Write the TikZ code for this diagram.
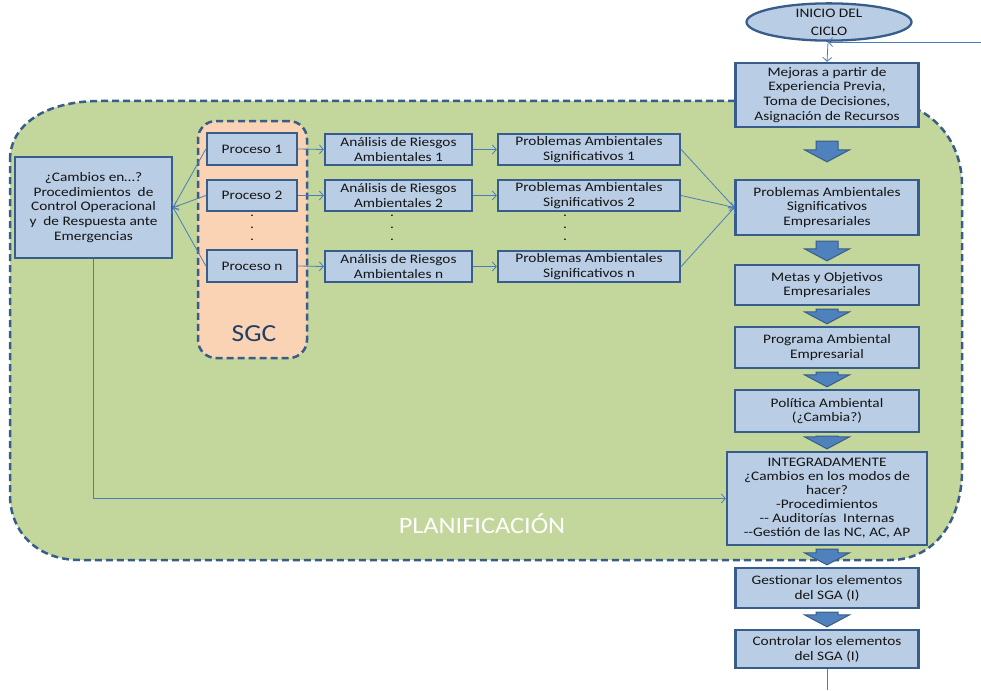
\documentclass[tikz,border=0pt]{standalone}
\usepackage{fontspec}
\setmainfont{Carlito}[FakeStretch=1.18]
\newfontfamily\bigfont{Carlito}[FakeStretch=1.12]
\usetikzlibrary{arrows.meta,calc,shapes.geometric}
\definecolor{boxfill}{HTML}{B9CDE5}
\definecolor{boxborder}{HTML}{385D8A}
\definecolor{greenfill}{HTML}{C3D69B}
\definecolor{sgcfill}{HTML}{FAD3B4}
\definecolor{arrowblue}{HTML}{4F81BD}
\definecolor{connblue}{HTML}{4A7EBB}
\definecolor{txt}{HTML}{141414}
\definecolor{sgctxt}{HTML}{1F3F6A}
\newcommand\barrow[4]{%
  \draw[barrowst] let \p1=(#1.south), \p2=(#2.north) in
    ({\x1-11pt},{\y1-#3pt}) -- ({\x1+11pt},{\y1-#3pt}) --
    ({\x1+11pt},{\y2+#4pt+12pt}) -- ({\x1+22.5pt},{\y2+#4pt+12pt}) --
    ({\x1},{\y2+#4pt}) -- ({\x1-22.5pt},{\y2+#4pt+12pt}) --
    ({\x1-11pt},{\y2+#4pt+12pt}) -- cycle;}
\begin{document}
\begin{tikzpicture}[x=1pt,y=-1pt,
  box/.style={draw=boxborder,line width=2.3pt,fill=boxfill,align=center,inner sep=0pt,text=txt,
    font=\fontsize{13}{14.8}\selectfont},
  conn/.style={draw=connblue,line width=0.8pt,-{Straight Barb[length=4pt,width=9pt]}},
  connline/.style={draw=connblue,line width=0.8pt},
  dashborder/.style={draw=boxborder,line width=2.5pt,dash pattern=on 7pt off 4pt},
  barrowst/.style={fill=arrowblue,draw=boxborder,line width=1pt,line join=miter},
  dotnode/.style={inner sep=0pt,anchor=base,text=txt,text height=2pt,text depth=0pt,font=\fontsize{13}{14.8}\selectfont}
]
\useasboundingbox (0,0) rectangle (981,690);
\fill[white] (0,0) rectangle (981,690);

% green planning region
\path[fill=greenfill,dashborder]
  (10,160) .. controls (10,125) and (45,101) .. (100,101) -- (880,101)
  .. controls (930,101) and (962,140) .. (962,185) -- (962,470)
  .. controls (962,520) and (935,560) .. (890,560) -- (80,560)
  .. controls (35,560) and (10,530) .. (10,495) -- cycle;
\node[text=white,font=\bigfont\fontsize{23.5}{25}\selectfont] (plan) at (482,524) {PLANIFICACIÓN};

% SGC container
\node[dashborder,fill=sgcfill,rounded corners=18pt,minimum width=109pt,minimum height=237pt,inner sep=0pt] (sgc) at (252.5,239.5) {};
\node[text=sgctxt,font=\bigfont\fontsize{24.5}{26}\selectfont] (sgclabel) at (254,334) {SGC};

% left box
\node[box,minimum width=157pt,minimum height=101pt] (cambios) at (93.5,207.5)
  {¿Cambios en…?\\Procedimientos\ \ de\\Control Operacional\\y\ \ de Respuesta ante\\Emergencias};

% process boxes
\node[box,minimum width=90pt,minimum height=32pt] (p1) at (252,149) {Proceso 1};
\node[box,minimum width=90pt,minimum height=31pt] (p2) at (252,195.5) {Proceso 2};
\node[box,minimum width=90pt,minimum height=32pt] (pn) at (252,266) {Proceso n};
\node[dotnode] (pd1) at (252,216) {.};
\node[dotnode] (pd2) at (252,228) {.};
\node[dotnode] (pd3) at (252,240) {.};

% analysis boxes
\node[box,minimum width=147pt,minimum height=31pt] (a1) at (398.5,149.5) {Análisis de Riesgos\\Ambientales 1};
\node[box,minimum width=147pt,minimum height=31pt] (a2) at (398.5,195.5) {Análisis de Riesgos\\Ambientales 2};
\node[box,minimum width=147pt,minimum height=31pt] (an) at (398.5,266.5) {Análisis de Riesgos\\Ambientales n};
\node[dotnode] (ad1) at (392,216) {.};
\node[dotnode] (ad2) at (392,228) {.};
\node[dotnode] (ad3) at (392,240) {.};

% significant problems boxes
\node[box,minimum width=182pt,minimum height=31pt] (s1) at (589,149.5) {Problemas Ambientales\\Significativos 1};
\node[box,minimum width=182pt,minimum height=31pt] (s2) at (589,195.5) {Problemas Ambientales\\Significativos 2};
\node[box,minimum width=182pt,minimum height=31pt] (sn) at (589,266.5) {Problemas Ambientales\\Significativos n};
\node[dotnode] (sd1) at (565,216) {.};
\node[dotnode] (sd2) at (565,228) {.};
\node[dotnode] (sd3) at (565,240) {.};

% right column
\node[ellipse,draw=boxborder,line width=2.3pt,fill=boxfill,minimum width=165pt,minimum height=28pt,inner sep=0pt,
  align=center,text=txt,font=\fontsize{13}{14.8}\selectfont] (inicio) at (829,22) {\raisebox{3pt}{INICIO DEL}\\CICLO};
\node[box,minimum width=183pt,minimum height=64pt] (mejoras) at (827,95)
  {Mejoras a partir de\\Experiencia Previa,\\Toma de Decisiones,\\Asignación de Recursos};
\node[box,minimum width=183pt,minimum height=55pt] (pae) at (827,207.5)
  {Problemas Ambientales\\Significativos\\Empresariales};
\node[box,minimum width=184pt,minimum height=40pt] (metas) at (827,285)
  {Metas y Objetivos\\Empresariales};
\node[box,minimum width=184pt,minimum height=41pt] (prog) at (827,347.5)
  {Programa Ambiental\\Empresarial};
\node[box,minimum width=184pt,minimum height=42pt] (pol) at (827,411)
  {Política Ambiental\\(¿Cambia?)};
\node[box,minimum width=200pt,minimum height=93pt,font=\fontsize{13}{14}\selectfont] (integ) at (827,498.5)
  {INTEGRADAMENTE\\¿Cambios en los modos de\\hacer?\\-Procedimientos\\-{}- Auditorías\ \ Internas\\-{}-Gestión de las NC, AC, AP};
\node[box,minimum width=183pt,minimum height=40pt] (gest) at (827,588)
  {Gestionar los elementos\\del SGA (I)};
\node[box,minimum width=183pt,minimum height=38pt] (ctrl) at (827,649)
  {Controlar los elementos\\del SGA (I)};

% block arrows
\barrow{mejoras}{pae}{13}{17}
\barrow{pae}{metas}{5}{3}
\barrow{metas}{prog}{3}{2}
\barrow{prog}{pol}{3}{2}
\barrow{pol}{integ}{3}{2}
\barrow{integ}{gest}{3}{2}
\barrow{gest}{ctrl}{3}{2}

% thin connectors
\draw[conn] (p1.west) -- (cambios.east);
\draw[conn] (p2.west) -- (cambios.east);
\draw[conn] (pn.west) -- (cambios.east);
\draw[conn] (p1.east) -- (a1.west);
\draw[conn] (p2.east) -- (a2.west);
\draw[conn] (pn.east) -- (an.west);
\draw[conn] (a1.east) -- (s1.west);
\draw[conn] (a2.east) -- (s2.west);
\draw[conn] (an.east) -- (sn.west);
\draw[conn] (s1.east) -- (pae.west);
\draw[conn] (s2.east) -- (pae.west);
\draw[conn] (sn.east) -- (pae.west);
\draw[conn] (cambios.south) |- (integ.west);
\coordinate (retstart) at (981,42);
\coordinate (retend) at (828,42);
\draw[conn] (retstart) -- (retend);
\draw[conn] (retend) -- (mejoras.north);
\coordinate (bottomend) at (827,690);
\draw[connline] (ctrl.south) -- (bottomend);
\end{tikzpicture}
\end{document}
